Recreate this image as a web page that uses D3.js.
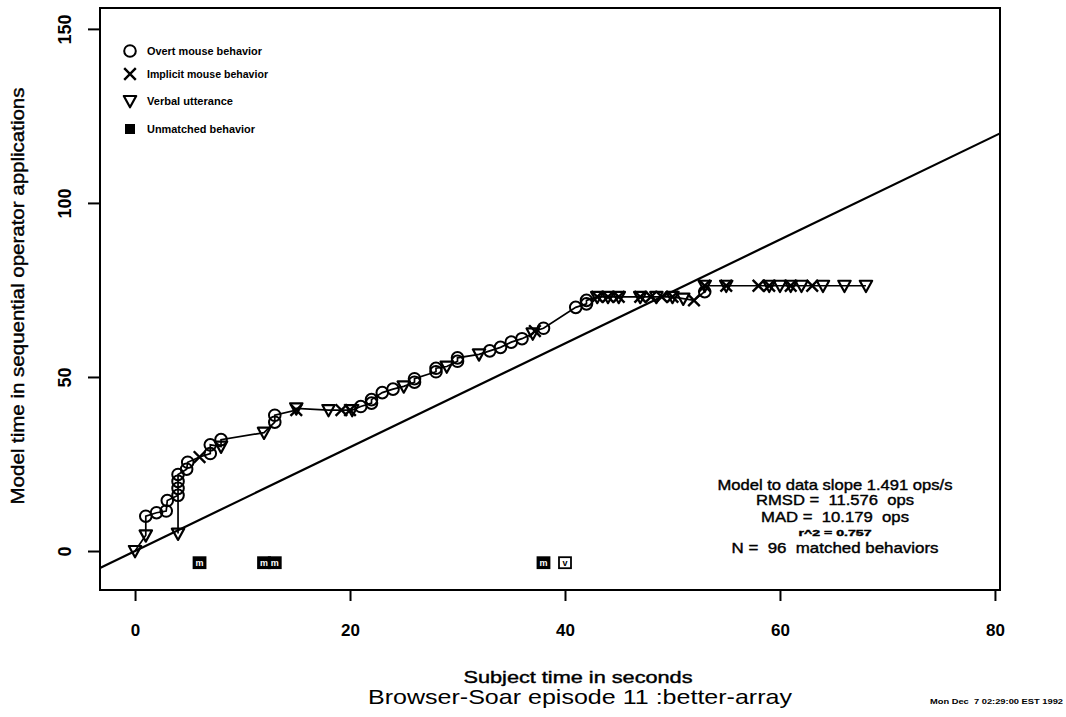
<!DOCTYPE html>
<html>
<head>
<meta charset="utf-8">
<script src="https://cdn.jsdelivr.net/npm/d3@7"></script>
<style>
body { margin: 0; background: #fff; }
text { font-family: "Liberation Sans", Arial, Helvetica, sans-serif; white-space: pre; fill: #000; }
.heavy { stroke: #000; stroke-width: 0.4px; }
</style>
</head>
<body>
<div id="vis-holder"></div>
<script>
// matched behaviours, in the order the model produced them
// kind: o = overt mouse, x = implicit mouse, v = verbal utterance
const subjTime = [0, 1, 1, 2, 2.9, 3, 4, 4, 4, 4,
    4, 4.8, 4.9, 6, 7, 7, 8, 8, 12, 13,
    13, 15, 15, 18, 19.2, 20, 20.2, 21, 22, 22,
    23, 24, 25, 26, 26, 28, 28, 29, 30, 30,
    32, 33, 34, 35, 36, 37, 37.2, 38, 41, 42,
    42, 43, 43, 44, 44, 45, 45, 47, 47, 48,
    48.5, 49, 50, 50, 51, 52, 53, 53, 53, 55,
    55, 58, 59, 59, 60, 61, 61, 62, 63, 64,
    66, 68];
const modelTime = [0, 4.5, 10, 11, 11.5, 14.5, 16, 5, 18, 20,
    22, 23.5, 25.5, 27, 28, 30.5, 30, 32, 34, 37,
    39, 40.5, 41, 40.5, 40.5, 40.5, 40.5, 41.5, 42.5, 43.5,
    45.5, 46.5, 47.3, 48.5, 49.5, 51.5, 52.5, 53, 54.5, 55.5,
    56.5, 57.5, 58.5, 60, 61, 62.5, 63.2, 64, 70, 71,
    72, 73, 73, 73, 73, 73, 73, 73, 73, 73,
    73, 73, 73, 73, 72.5, 72, 74.5, 76.2, 76.2, 76.2,
    76.2, 76.2, 76.2, 76.2, 76.2, 76.2, 76.2, 76.2, 76.2, 76.2,
    76.2, 76.2];
const kind = ["v", "v", "o", "o", "o", "o", "o", "v", "o", "o",
    "o", "o", "o", "x", "o", "o", "v", "o", "v", "o",
    "o", "x", "v", "v", "x", "x", "v", "o", "o", "o",
    "o", "o", "v", "o", "o", "o", "o", "v", "o", "o",
    "v", "o", "o", "o", "o", "v", "x", "o", "o", "o",
    "o", "x", "v", "x", "v", "x", "v", "x", "v", "x",
    "v", "x", "x", "v", "v", "x", "o", "v", "x", "x",
    "v", "x", "v", "x", "v", "x", "v", "v", "x", "v",
    "v", "v"];

// unmatched behaviours drawn below zero
const unmatchedTime = [6, 12, 13, 38, 40];
const unmatchedModel = [-3.5, -3.5, -3.5, -3.5, -3.5];
const unmatchedTag = ["m", "m", "m", "m", "v"];

const xTicks = [0, 20, 40, 60, 80];
const yTicks = [0, 50, 100, 150];
const fitSlope = 1.491;

const legendKinds = ["o", "x", "v", "u"];
const legendLabels = ["Overt mouse behavior", "Implicit mouse behavior", "Verbal utterance", "Unmatched behavior"];
const legendWidths = [115, 121, 86, 108];

const statLines = ["Model to data slope 1.491 ops/s", "RMSD =  11.576  ops", "MAD =  10.179  ops", "r^2 = 0.757", "N =  96  matched behaviors"];

const w = 1066;
const h = 717;
const plotLeft = 100, plotRight = 1000, plotTop = 8, plotBottom = 590;

const svg = d3.select("#vis-holder").append("svg")
    .attr("width", w)
    .attr("height", h);

const x = d3.scaleLinear().domain([-3.26, 80.47]).range([plotLeft, plotRight]);
const y = d3.scaleLinear().domain([-11.2, 156.0]).range([plotBottom, plotTop]);

// box round the plot
svg.append("rect")
    .attr("x", plotLeft).attr("y", plotTop)
    .attr("width", plotRight - plotLeft).attr("height", plotBottom - plotTop)
    .attr("fill", "none").attr("stroke", "#000").attr("stroke-width", 2);

// axes
const xAxis = svg.append("g")
    .attr("transform", "translate(0," + plotBottom + ")")
    .call(d3.axisBottom(x).tickValues(xTicks).tickSize(11).tickPadding(23).tickFormat(d3.format("d")));
xAxis.select(".domain").remove();
xAxis.selectAll("line").attr("stroke-width", 2);
xAxis.selectAll("text")
    .style("font-size", "17px").style("font-weight", "bold")
    .attr("font-family", null);

const yAxis = svg.append("g")
    .attr("transform", "translate(" + plotLeft + ",0)")
    .call(d3.axisLeft(y).tickValues(yTicks).tickSize(12).tickFormat(d3.format("d")));
yAxis.select(".domain").remove();
yAxis.selectAll("line").attr("stroke-width", 2);
yAxis.selectAll("text")
    .attr("x", null).attr("dy", null)
    .attr("transform", "translate(-29,0) rotate(-90)")
    .attr("text-anchor", "middle")
    .style("font-size", "18px").style("font-weight", "bold");

// fitted line, model time = slope * subject time
svg.append("clipPath").attr("id", "plot-clip")
    .append("rect").attr("x", plotLeft).attr("y", plotTop)
    .attr("width", plotRight - plotLeft).attr("height", plotBottom - plotTop);

svg.append("line")
    .attr("clip-path", "url(#plot-clip)")
    .attr("x1", x(x.domain()[0])).attr("y1", y(fitSlope * x.domain()[0]))
    .attr("x2", x(x.domain()[1])).attr("y2", y(fitSlope * x.domain()[1]))
    .attr("stroke", "#000").attr("stroke-width", 2.2);

// behaviour sequence line
const pts = subjTime.map((t, i) => ({t: t, m: modelTime[i], k: kind[i]}));
svg.append("path")
    .datum(pts)
    .attr("d", d3.line().x(d => x(d.t)).y(d => y(d.m)))
    .attr("fill", "none").attr("stroke", "#000").attr("stroke-width", 1.7);

function drawSymbol(g, k) {
    if (k == "o") {
        g.append("circle").attr("r", 5.8)
            .attr("fill", "none").attr("stroke", "#000").attr("stroke-width", 2);
    } else if (k == "x") {
        g.append("path").attr("d", "M-5.8,-5.8L5.8,5.8M-5.8,5.8L5.8,-5.8")
            .attr("fill", "none").attr("stroke", "#000").attr("stroke-width", 2.4);
    } else if (k == "v") {
        g.append("path").attr("d", "M-6.2,-5L6.2,-5L0,6.3Z")
            .attr("fill", "none").attr("stroke", "#000").attr("stroke-width", 2.2)
            .attr("stroke-linejoin", "round");
    } else {
        g.append("rect").attr("x", -5).attr("y", -5).attr("width", 10).attr("height", 10)
            .attr("fill", "#000");
    }
}

svg.selectAll("g.pt")
    .data(pts)
    .enter()
    .append("g")
    .attr("class", "pt")
    .attr("transform", d => "translate(" + x(d.t) + "," + y(d.m) + ")")
    .each(function(d) { drawSymbol(d3.select(this), d.k); });

// unmatched behaviours
const um = svg.selectAll("g.um")
    .data(unmatchedTime.map((t, i) => ({t: t, m: unmatchedModel[i], tag: unmatchedTag[i]})))
    .enter()
    .append("g")
    .attr("class", "um")
    .attr("transform", d => "translate(" + x(d.t) + "," + y(d.m) + ")");
um.append("rect")
    .attr("x", -6).attr("y", -6).attr("width", 12).attr("height", 11)
    .attr("fill", d => d.tag == "m" ? "#000" : "#fff")
    .attr("stroke", "#000").attr("stroke-width", 1.8);
um.append("text")
    .attr("y", 3)
    .attr("text-anchor", "middle")
    .style("font-size", "9px").style("font-weight", "bold")
    .style("fill", d => d.tag == "m" ? "#fff" : "#000")
    .text(d => d.tag);

// legend
const legend = svg.selectAll("g.leg")
    .data(legendLabels)
    .enter()
    .append("g")
    .attr("class", "leg")
    .attr("transform", (d, i) => "translate(130," + [51, 74, 101, 129][i] + ")");
legend.each(function(d, i) { drawSymbol(d3.select(this), legendKinds[i]); });
legend.append("text")
    .attr("x", 17).attr("y", 4)
    .attr("textLength", (d, i) => legendWidths[i])
    .attr("lengthAdjust", "spacingAndGlyphs")
    .style("font-size", "11px").style("font-weight", "bold")
    .text(d => d);

// fit statistics
svg.selectAll("text.stat")
    .data(statLines)
    .enter()
    .append("text")
    .attr("class", "stat heavy")
    .attr("x", 835)
    .attr("y", (d, i) => [490, 505, 522, 536, 553][i])
    .attr("text-anchor", "middle")
    .attr("textLength", (d, i) => [235, 158, 148, 73, 207][i])
    .attr("lengthAdjust", "spacingAndGlyphs")
    .style("font-size", (d, i) => i == 3 ? "9px" : "15px")
    .style("font-weight", (d, i) => i == 3 ? "bold" : "normal")
    .text(d => d);

// axis titles
svg.append("text")
    .attr("class", "heavy")
    .attr("x", 578).attr("y", 683)
    .attr("text-anchor", "middle")
    .attr("textLength", 229).attr("lengthAdjust", "spacingAndGlyphs")
    .style("font-size", "16px")
    .text("Subject time in seconds");

svg.append("text")
    .attr("class", "heavy")
    .attr("transform", "translate(24,296) rotate(-90)")
    .attr("text-anchor", "middle")
    .attr("textLength", 417).attr("lengthAdjust", "spacingAndGlyphs")
    .style("font-size", "18px")
    .text("Model time in sequential operator applications");

svg.append("text")
    .attr("x", 580).attr("y", 704)
    .attr("text-anchor", "middle")
    .attr("textLength", 424).attr("lengthAdjust", "spacingAndGlyphs")
    .style("font-size", "21px")
    .text("Browser-Soar episode 11 :better-array");

svg.append("text")
    .attr("x", 930).attr("y", 704)
    .attr("textLength", 133).attr("lengthAdjust", "spacingAndGlyphs")
    .style("font-size", "8px").style("font-weight", "bold")
    .text("Mon Dec  7 02:29:00 EST 1992");
</script>
</body>
</html>
